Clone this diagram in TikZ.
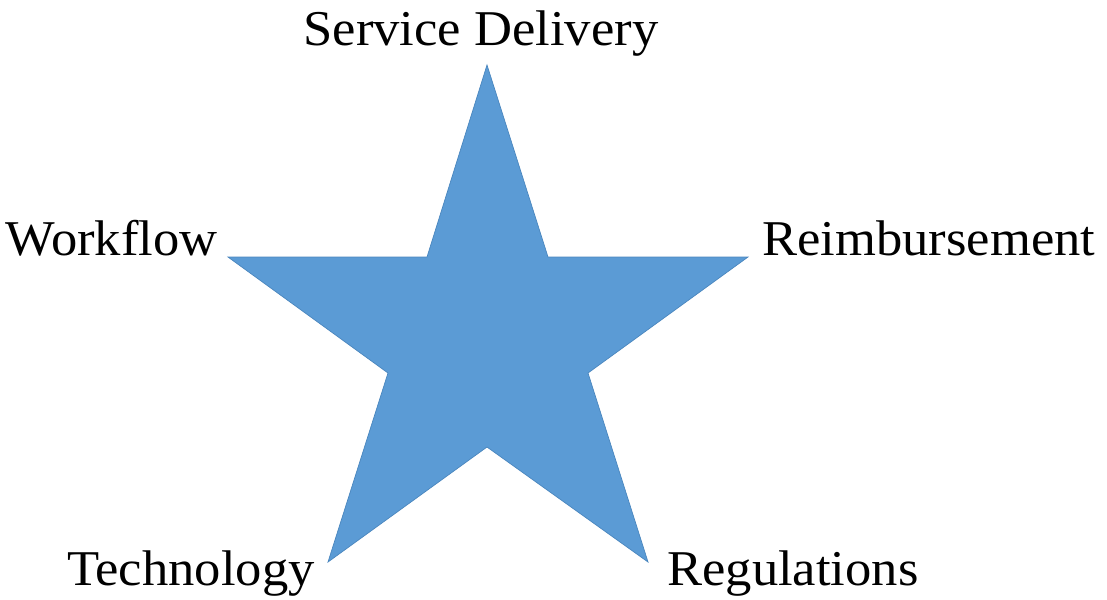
\documentclass[tikz,border=0pt]{standalone}
\usepackage{fontspec}
\setmainfont[FakeStretch=1.05]{Liberation Serif}
\usetikzlibrary{positioning}

\definecolor{starblue}{HTML}{5B9BD5}
\definecolor{staredge}{HTML}{4A86BE}

\begin{document}
\begin{tikzpicture}[x=0.2mm, y=-0.2mm,
    pillar/.style={inner sep=0pt, font=\fontsize{28.5}{32}\selectfont}]
  \useasboundingbox (0,0) rectangle (1107,599);

  % outer tips and inner corners of the star
  \coordinate (tip1) at (487,65);
  \coordinate (in1)  at (548,257);
  \coordinate (tip2) at (748,257);
  \coordinate (in2)  at (588,373);
  \coordinate (tip3) at (648,562);
  \coordinate (in3)  at (487,447);
  \coordinate (tip4) at (328,562);
  \coordinate (in4)  at (388,373);
  \coordinate (tip5) at (228,257);
  \coordinate (in5)  at (427,257);

  \fill[starblue, draw=staredge, line width=0.4pt]
    (tip1) -- (in1) -- (tip2) -- (in2) -- (tip3) -- (in3)
    -- (tip4) -- (in4) -- (tip5) -- (in5) -- cycle;

  % labels around the tips
  \node[pillar, anchor=base] (service) at (481,45) {Service Delivery};
  \node[pillar, anchor=base east] (workflow) at (218,255) {Workflow};
  \node[pillar, anchor=base west] (reimb) at (762,255) {Reimbursement};
  \node[pillar, anchor=base east] (tech) at (315,585) {Technology};
  \node[pillar, anchor=base west] (regs) at (667,585) {Regulations};
\end{tikzpicture}
\end{document}
